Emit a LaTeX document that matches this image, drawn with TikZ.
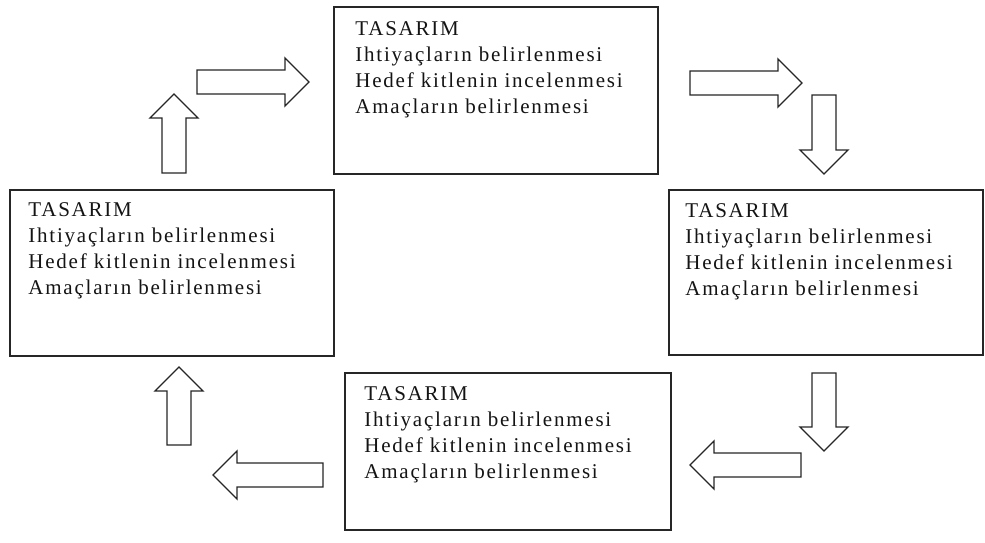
\documentclass[tikz,border=0pt]{standalone}
\usepackage{fontspec}
\setmainfont{Liberation Serif}[LetterSpace=8.5]
% outlined block arrow: tail, angle, length
\newcommand{\blockarrow}[3]{%
  \draw[blockarr,shift={#1},rotate=#2] (0,-12)--(#3-24,-12)--(#3-24,-24)--(#3,0)
    --(#3-24,24)--(#3-24,12)--(0,12)--cycle;}
\begin{document}
\begin{tikzpicture}[x=1pt,y=-1pt,
  box/.style={draw=black!85,line width=1.6pt,fill=white,inner sep=0pt},
  boxtext/.style={anchor=north west,inner sep=0pt,align=left,text=black!92,
    font=\fontsize{21}{26}\selectfont},
  blockarr/.style={draw=black!85,line width=1.3pt,fill=white,line join=miter}]
\useasboundingbox (0,0) rectangle (985,543);
% boxes
\node[box,minimum width=324pt,minimum height=167pt] (top) at (496,90.5) {};
\node[box,minimum width=324pt,minimum height=166pt] (left) at (172,273) {};
\node[box,minimum width=314pt,minimum height=165pt] (right) at (826,272.5) {};
\node[box,minimum width=326pt,minimum height=157pt] (bottom) at (508,451.5) {};
\foreach \b/\dx/\dy in {top/22/15,left/19/13,right/17/14,bottom/20/14}
  \node[boxtext] (\b txt) at ([shift={(\dx,\dy)}]\b.north west)
    {TASARIM\\Ihtiyaçların belirlenmesi\\Hedef kitlenin incelenmesi\\Amaçların belirlenmesi};
% arrows
\blockarrow{(197,82)}{0}{112}
\blockarrow{(690,83)}{0}{112}
\blockarrow{(824,95)}{-90}{79}
\blockarrow{(824,373)}{-90}{78}
\blockarrow{(801,465)}{180}{111}
\blockarrow{(323,475)}{180}{110}
\blockarrow{(179,445)}{90}{78}
\blockarrow{(174,173)}{90}{79}
\end{tikzpicture}
\end{document}
